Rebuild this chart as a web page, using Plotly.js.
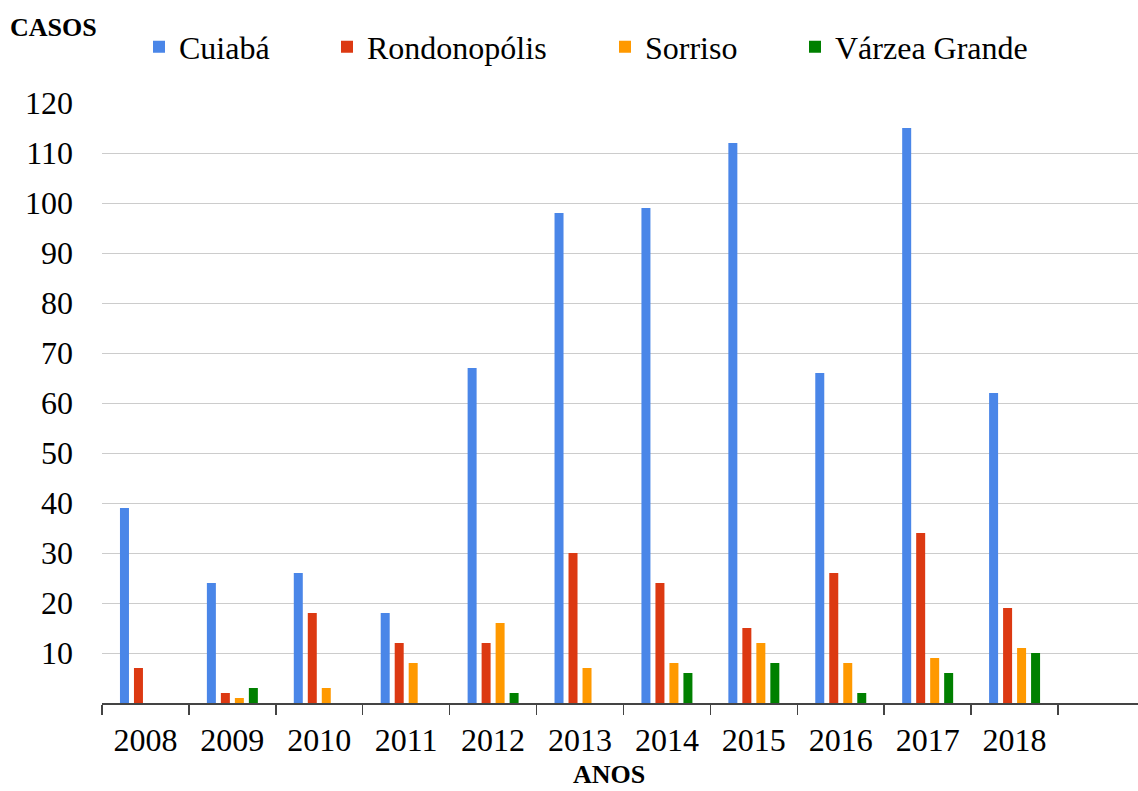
<!DOCTYPE html>
<html>
<head>
<meta charset="utf-8">
<script src="https://cdn.plot.ly/plotly-3.0.1.min.js"></script>
<style>html,body{margin:0;padding:0;background:#fff}#chart{width:1138px;height:791px}</style>
</head>
<body>
<div id="chart"></div>
<script>
const years = ["2008","2009","2010","2011","2012","2013","2014","2015","2016","2017","2018"];
const seriesNames = ["Cuiabá","Rondonopólis","Sorriso","Várzea Grande"];
const cuiaba       = [39, 24, 26, 18, 67, 98, 99, 112, 66, 115, 62];
const rondonopolis = [7, 2, 18, 12, 12, 30, 24, 15, 26, 34, 19];
const sorriso      = [0, 1, 3, 8, 16, 7, 8, 12, 8, 9, 11];
const varzeaGrande = [0, 3, 0, 0, 2, 0, 6, 8, 2, 6, 10];
const yTicks = [10,20,30,40,50,60,70,80,90,100,110,120];

const colors = ["#4a86e8","#dc3912","#ff9900","#008000"];
const values = [cuiaba, rondonopolis, sorriso, varzeaGrande];
const font = "Liberation Serif";
const legendIds = ["legend","legend2","legend3","legend4"];
const legendLeftPx = [139, 327, 605, 795];

const traces = values.map((v,i)=>({
  type:"bar", name: seriesNames[i], x: years, y: v, legend: legendIds[i],
  marker:{color: colors[i], line:{width:0}}
}));

const layout = {
  width:1138, height:791,
  margin:{l:102, r:0, t:102, b:88},
  paper_bgcolor:"#fff", plot_bgcolor:"#fff",
  barmode:"group", bargap:0.356, bargroupgap:0.357,
  font:{family:font, size:32, color:"#000"},
  showlegend:true,
  xaxis:{type:"category", range:[-0.5, 11.42], tickson:"boundaries",
         ticks:"outside", ticklen:10, tickcolor:"#444", tickwidth:1.5,
         showline:true, linecolor:"#444", linewidth:1.5, showgrid:false,
         tickfont:{family:font, size:32, color:"#000"}, ticklabelstandoff:8, fixedrange:true},
  yaxis:{range:[0, 120.2], tickmode:"array", tickvals:yTicks, ticktext:yTicks.map(String),
         showgrid:true, gridcolor:"#cccccc", gridwidth:1, zeroline:false, showline:false,
         ticks:"", tickfont:{family:font, size:32, color:"#000"}, ticklabelstandoff:28},
  annotations:[
    {text:"<b>CASOS</b>", xref:"paper", yref:"paper", x:(53-102)/1036, y:(703-27)/601, xanchor:"center", yanchor:"middle",
     showarrow:false, font:{family:font, size:26, color:"#000"}},
    {text:"<b>ANOS</b>", xref:"paper", yref:"paper", x:(609-102)/1036, y:-(791-703)/601, xanchor:"center", yanchor:"bottom",
     showarrow:false, font:{family:font, size:26, color:"#000"}}
  ]
};
legendIds.forEach((id,i)=>{
  layout[id] = {orientation:"h", x:(legendLeftPx[i]-102)/1036, xanchor:"left",
    y:(703-47)/601, yanchor:"middle", bgcolor:"rgba(0,0,0,0)", borderwidth:0,
    font:{family:font, size:32, color:"#000"}};
});
Plotly.newPlot("chart", traces, layout, {displayModeBar:false, staticPlot:true});
</script>
</body>
</html>
